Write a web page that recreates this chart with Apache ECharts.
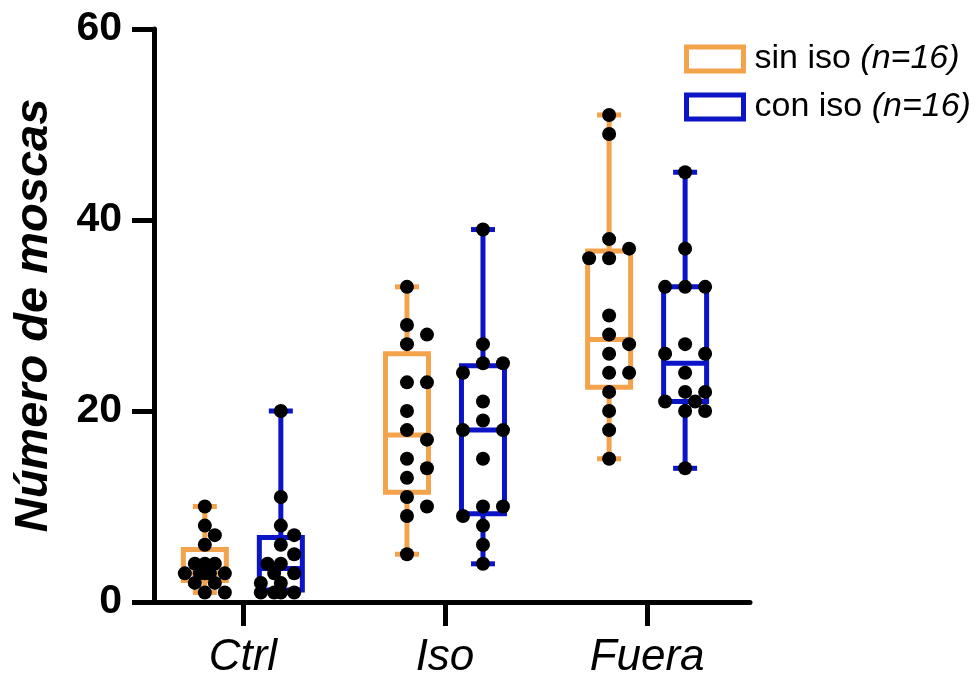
<!DOCTYPE html>
<html>
<head>
<meta charset="utf-8">
<script src="https://cdn.jsdelivr.net/npm/echarts@6/dist/echarts.min.js"></script>
<style>
  html, body { margin: 0; padding: 0; background: #ffffff; }
  #chart { width: 978px; height: 680px; }
</style>
</head>
<body>
<div id="chart"></div>
<script>
// Fly counts per condition (one value per replicate)
const categories = ['Ctrl', 'Iso', 'Fuera'];
const seriesNames = ['sin iso', 'con iso'];

const sinIsoCtrl  = [10, 8, 7, 6, 4, 4, 4, 3, 3, 3, 3, 3, 2, 2, 1, 1];
const sinIsoIso   = [33, 29, 28, 27, 23, 23, 20, 18, 17, 15, 14, 13, 11, 10, 9, 5];
const sinIsoFuera = [51, 49, 38, 37, 36, 36, 30, 28, 27, 26, 24, 24, 22, 20, 18, 15];

const conIsoCtrl  = [20, 11, 8, 7, 6, 5, 4, 4, 3, 3, 2, 2, 1, 1, 1, 1];
const conIsoIso   = [39, 27, 25, 25, 24, 21, 19, 18, 18, 15, 10, 10, 9, 8, 6, 4];
const conIsoFuera = [45, 37, 33, 33, 33, 27, 26, 26, 24, 22, 22, 21, 21, 20, 20, 14];

const yTicks = [0, 20, 40, 60];

const sinIsoGroups = [sinIsoCtrl, sinIsoIso, sinIsoFuera];
const conIsoGroups = [conIsoCtrl, conIsoIso, conIsoFuera];

const ORANGE = '#F3A34C';
const BLUE = '#0C14C8';
const FONT = '"Liberation Sans", Arial, Helvetica, sans-serif';

// Drawing constants (pixels)
const LINE_W = 5;
const DOT_R = 7;
const BOX_HALF = 21.5;
const CAP_HALF = 12;
const GROUP_SHIFT = 38;
const SWARM_HALF = 20;

// Quartiles with the (n + 1) p rule
function quantile(sorted, p) {
  const n = sorted.length;
  const pos = (n + 1) * p;
  if (pos <= 1) return sorted[0];
  if (pos >= n) return sorted[n - 1];
  const lo = Math.floor(pos);
  const f = pos - lo;
  return sorted[lo - 1] + f * (sorted[lo] - sorted[lo - 1]);
}
function boxStats(values) {
  const s = values.slice().sort((a, b) => a - b);
  return [s[0], quantile(s, 0.25), quantile(s, 0.5), quantile(s, 0.75), s[s.length - 1]];
}
function maxTies(values) {
  const counts = {};
  values.forEach(v => { counts[v] = (counts[v] || 0) + 1; });
  return Math.max(...Object.values(counts));
}

// Horizontal offsets for a swarm of dots in pixel space
function swarm(ys, ties) {
  const step = ties > 1 ? Math.min(SWARM_HALF, 2 * SWARM_HALF / (ties - 1)) : SWARM_HALF;
  const half = step / 2;
  const slots = [0];
  for (let k = 1; k * half <= SWARM_HALF + 0.01; k++) slots.push(k * half, -k * half);
  const DX = step * 0.95, DY = 12.5;
  const placed = [];
  const dist = (x, y) => Math.min(Infinity, ...placed.map(p => Math.hypot((p.x - x) / DX, (p.y - y) / DY)));
  ys.forEach(y => {
    let x = slots.find(s => dist(s, y) >= 0.999);
    if (x === undefined) {
      let best = 0, bestD = -1;
      slots.forEach(s => { const d = dist(s, y); if (d > bestD + 1e-9) { bestD = d; best = s; } });
      x = best;
    }
    placed.push({ x, y });
  });
  return placed.map(p => p.x);
}

function makeRenderer(colour, shift, groups) {
  return function (params, api) {
    const values = groups[params.dataIndex];
    const cat = api.value(0);
    const cx = api.coord([cat, 0])[0] + shift;
    const py = v => api.coord([cat, v])[1];
    const [yMin, yQ1, yMed, yQ3, yMax] = boxStats(values).map(py);
    const line = (x1, y1, x2, y2) => ({
      type: 'line', shape: { x1, y1, x2, y2 },
      style: { stroke: colour, lineWidth: LINE_W }
    });
    const children = [
      line(cx, yMax, cx, yQ3),
      line(cx, yQ1, cx, yMin),
      line(cx - CAP_HALF, yMax, cx + CAP_HALF, yMax),
      line(cx - CAP_HALF, yMin, cx + CAP_HALF, yMin),
      {
        type: 'rect',
        shape: { x: cx - BOX_HALF, y: yQ3, width: 2 * BOX_HALF, height: yQ1 - yQ3 },
        style: { fill: 'rgba(255,255,255,0)', stroke: colour, lineWidth: LINE_W, lineJoin: 'miter' }
      },
      line(cx - BOX_HALF, yMed, cx + BOX_HALF, yMed)
    ];
    const ys = values.map(py);
    const xs = swarm(ys, maxTies(values));
    ys.forEach((y, k) => {
      children.push({ type: 'circle', shape: { cx: cx + xs[k], cy: y, r: DOT_R }, style: { fill: '#000000' } });
    });
    return { type: 'group', children };
  };
}

// Category centres sit at 1, 2, 3 on a value axis
const xMin = 0.5605;
const xMax = 3.509;
const catPositions = categories.map((c, i) => i + 1);

const chart = echarts.init(document.getElementById('chart'), null, { renderer: 'canvas' });

const option = {
  animation: false,
  backgroundColor: '#ffffff',
  grid: { left: 154, right: 228, top: 29, bottom: 70, containLabel: false },
  legend: {
    orient: 'vertical',
    left: 679,
    top: 37,
    itemWidth: 57,
    itemHeight: 24,
    itemGap: 14,
    selectedMode: false,
    data: seriesNames.map((n, i) => ({
      name: n,
      icon: 'rect',
      itemStyle: { color: '#ffffff', borderColor: i === 0 ? ORANGE : BLUE, borderWidth: LINE_W }
    })),
    formatter: name => {
      const n = (name === seriesNames[0] ? sinIsoGroups : conIsoGroups)[0].length;
      return '{a|' + name + ' }{it|(n=' + n + ')}';
    },
    textStyle: {
      color: '#000',
      fontFamily: FONT,
      fontSize: 34,
      lineHeight: 34,
      rich: {
        a: { fontFamily: FONT, fontSize: 34, lineHeight: 34, color: '#000', padding: [0, 0, 0, 6] },
        it: { fontFamily: FONT, fontSize: 34, lineHeight: 34, color: '#000', fontStyle: 'italic' }
      }
    }
  },
  xAxis: {
    type: 'value',
    min: xMin,
    max: xMax,
    splitLine: { show: false },
    axisLine: { show: true, onZero: false, lineStyle: { color: '#000', width: LINE_W } },
    axisTick: { show: true, customValues: catPositions, length: 24, lineStyle: { color: '#000', width: LINE_W } },
    axisLabel: {
      customValues: catPositions,
      formatter: v => categories[Math.round(v) - 1],
      fontFamily: FONT,
      fontSize: 44,
      fontStyle: 'italic',
      color: '#000',
      margin: 34
    }
  },
  yAxis: {
    type: 'value',
    min: yTicks[0],
    max: yTicks[yTicks.length - 1],
    interval: yTicks[1] - yTicks[0],
    splitLine: { show: false },
    axisLine: { show: true, lineStyle: { color: '#000', width: LINE_W } },
    axisTick: { show: true, length: 22, lineStyle: { color: '#000', width: LINE_W } },
    axisLabel: {
      fontFamily: FONT,
      fontSize: 41,
      fontWeight: 'bold',
      color: '#000',
      margin: 32
    },
    name: 'Número de moscas',
    nameLocation: 'middle',
    nameGap: 96,
    nameTextStyle: {
      fontFamily: FONT,
      fontSize: 47,
      fontWeight: 'bold',
      fontStyle: 'italic',
      color: '#000'
    }
  },
  series: [
    {
      name: seriesNames[0],
      type: 'custom',
      itemStyle: { color: ORANGE },
      encode: { x: 0, y: 1 },
      data: sinIsoGroups.map((g, i) => [catPositions[i], Math.max(...g)]),
      renderItem: makeRenderer(ORANGE, -GROUP_SHIFT, sinIsoGroups)
    },
    {
      name: seriesNames[1],
      type: 'custom',
      itemStyle: { color: BLUE },
      encode: { x: 0, y: 1 },
      data: conIsoGroups.map((g, i) => [catPositions[i], Math.max(...g)]),
      renderItem: makeRenderer(BLUE, GROUP_SHIFT, conIsoGroups)
    }
  ]
};

chart.setOption(option);
</script>
</body>
</html>
